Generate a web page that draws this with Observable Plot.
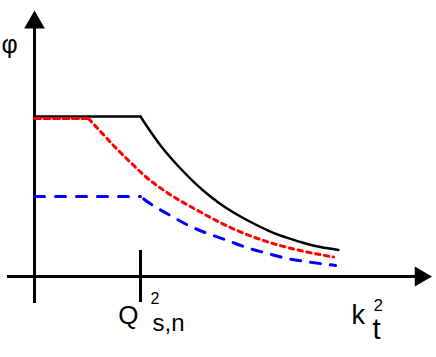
<!DOCTYPE html>
<html><head><meta charset="utf-8">
<script src="https://cdn.jsdelivr.net/npm/d3@7"></script>
<script src="https://cdn.jsdelivr.net/npm/@observablehq/plot@0.6"></script>
<style>html,body{margin:0;padding:0;background:#fff;overflow:hidden}</style>
</head><body><div id="chart"></div>
<script>
// x in units of Q_{s,n}^2, y in units of the black plateau
const qTick = 1;
const plateauBlack = 1.0;
const plateauRed = 0.9875;
const plateauBlue = 0.5;
const blackX = [1.0, 1.094, 1.189, 1.283, 1.377, 1.519, 1.660, 1.802, 1.943, 2.085, 2.226, 2.387, 2.557, 2.698, 2.868];
const blackY = [1.0, 0.906, 0.819, 0.744, 0.675, 0.581, 0.500, 0.431, 0.375, 0.325, 0.281, 0.241, 0.206, 0.184, 0.166];
const redX = [0.509, 0.623, 0.764, 0.906, 1.047, 1.264, 1.538, 1.849, 2.160, 2.481, 2.821];
const redY = [0.9875, 0.906, 0.806, 0.713, 0.625, 0.519, 0.413, 0.306, 0.225, 0.166, 0.122];
const blueX = [1.0, 1.094, 1.283, 1.453, 1.632, 1.821, 1.991, 2.198, 2.387, 2.604, 2.840];
const blueY = [0.5, 0.454, 0.381, 0.319, 0.269, 0.225, 0.183, 0.144, 0.1125, 0.089, 0.069];
const yLabel = "φ";
const xLabel = ["k", "t", "2"];        // k_t^2
const tickLabel = ["Q", "s,n", "2"];   // Q_{s,n}^2
const xAxisExtent = [-0.255, 3.6415];
const yAxisExtent = [-0.169, 1.5875];
const tickExtent = [-0.1625, 0.1625];

const zip = (xs, ys) => xs.map((x, i) => ({x, y: ys[i]}));
const plateau = (level, xs) => [{x: 0, y: level}, {x: xs[0], y: level}];

const font = "'Liberation Sans', Arial, sans-serif";
const txt = (s, x, y, opts) => Plot.text([s], {x: () => x, y: () => y, text: d => d,
  textAnchor: "start", lineAnchor: "bottom", fill: "black", fontFamily: font, ...opts});

const chart = Plot.plot({
  width: 436, height: 357,
  marginTop: 0, marginRight: 0, marginBottom: 0, marginLeft: 0,
  style: {background: "white", fontFamily: font},
  x: {domain: [-34/106, (436-34)/106], axis: null},
  y: {domain: [(276-357)/160, 276/160], axis: null},
  marks: [
    // axes
    Plot.ruleY([0], {x1: xAxisExtent[0], x2: xAxisExtent[1], stroke: "black", strokeWidth: 3}),
    Plot.ruleX([0], {y1: yAxisExtent[0], y2: yAxisExtent[1], stroke: "black", strokeWidth: 3}),
    Plot.ruleX([qTick], {y1: tickExtent[0], y2: tickExtent[1], stroke: "black", strokeWidth: 3}),
    Plot.dot([0], {x: () => xAxisExtent[1], y: () => 0, symbol: "triangle", r: 7.4, rotate: 90, fill: "black", stroke: "none"}),
    Plot.dot([0], {x: () => 0, y: () => yAxisExtent[1], symbol: "triangle", r: 7.7, fill: "black", stroke: "none"}),
    // black solid
    Plot.line(plateau(plateauBlack, blackX), {x: "x", y: "y", stroke: "black", strokeWidth: 2.5}),
    Plot.line(zip(blackX, blackY), {x: "x", y: "y", stroke: "black", strokeWidth: 2.5, curve: "monotone-x"}),
    // blue dashed
    Plot.line(plateau(plateauBlue, blueX), {x: "x", y: "y", stroke: "#0000ff", strokeWidth: 3, strokeDasharray: "10,11"}),
    Plot.line(zip(blueX, blueY), {x: "x", y: "y", stroke: "#0000ff", strokeWidth: 3, strokeDasharray: "10,10", strokeDashoffset: -4, curve: "monotone-x"}),
    // red dotted
    Plot.line(plateau(plateauRed, redX), {x: "x", y: "y", stroke: "#ff0000", strokeWidth: 3, strokeDasharray: "6,3.5"}),
    Plot.line(zip(redX, redY), {x: "x", y: "y", stroke: "#ff0000", strokeWidth: 3, strokeDasharray: "4.5,4.5", curve: "monotone-x"}),
    // labels
    txt(yLabel, 0, yAxisExtent[1], {dx: -33, dy: 30, fontSize: 25}),
    txt(tickLabel[0], qTick, 0, {textAnchor: "end", dx: -2, dy: 47, fontSize: 26}),
    txt(tickLabel[1], qTick, 0, {dx: 12, dy: 54, fontSize: 24}),
    txt(tickLabel[2], qTick, 0, {dx: 10, dy: 27, fontSize: 16}),
    txt(xLabel[0], xAxisExtent[1], 0, {dx: -69, dy: 47, fontSize: 27}),
    txt(xLabel[1], xAxisExtent[1], 0, {dx: -48, dy: 62, fontSize: 29}),
    txt(xLabel[2], xAxisExtent[1], 0, {dx: -47, dy: 34, fontSize: 17})
  ]
});
document.getElementById("chart").append(chart);
</script>
</body></html>
